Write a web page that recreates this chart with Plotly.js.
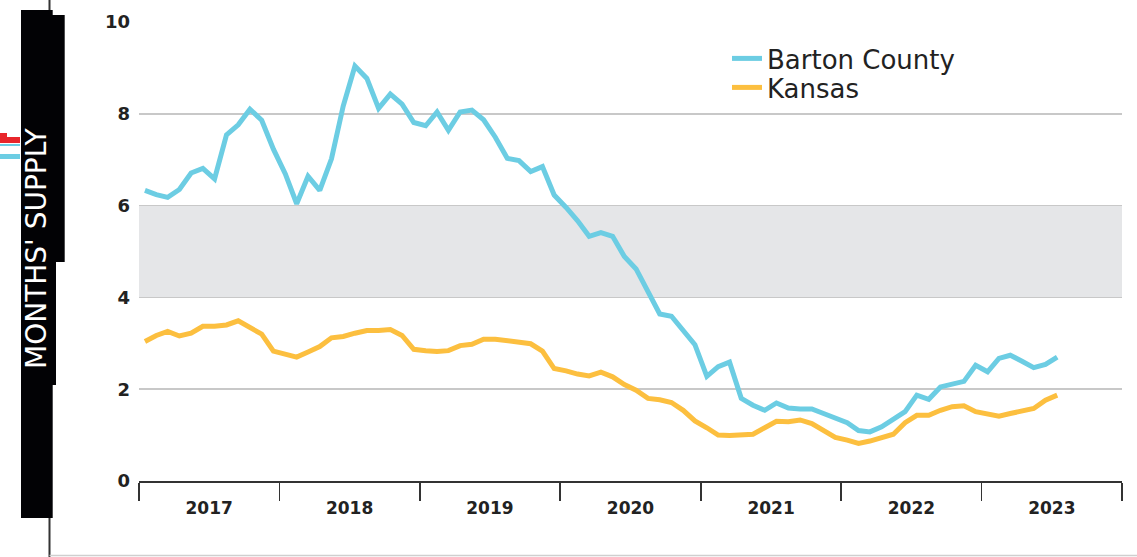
<!DOCTYPE html>
<html>
<head>
<meta charset="utf-8">
<script src="https://cdn.plot.ly/plotly-3.0.1.min.js"></script>
<style>html,body{margin:0;padding:0;background:#fff;}#chart{width:1137px;height:557px;}</style>
</head>
<body>
<div id="chart"></div>
<script>
// ---- Data (monthly, Jan 2017 – Jul 2023) ----
const MONTHS = [];
for (let y = 2017; y <= 2023; y++) {
  for (let m = 1; m <= 12; m++) {
    if (y === 2023 && m > 7) break;
    MONTHS.push(y + '-' + String(m).padStart(2, '0'));
  }
}
const BARTON = [
  6.33, 6.24, 6.18, 6.35, 6.71, 6.81, 6.58, 7.54, 7.76, 8.10, 7.86, 7.23,
  6.69, 6.04, 6.64, 6.33, 7.02, 8.17, 9.04, 8.77, 8.12, 8.43, 8.21, 7.81,
  7.74, 8.04, 7.64, 8.04, 8.08, 7.87, 7.49, 7.03, 6.98, 6.74, 6.85, 6.23,
  5.96, 5.67, 5.33, 5.41, 5.33, 4.89, 4.62, 4.12, 3.64, 3.59, 3.28, 2.97,
  2.28, 2.49, 2.59, 1.80, 1.65, 1.54, 1.70, 1.59, 1.57, 1.57, 1.47, 1.38,
  1.27, 1.10, 1.07, 1.18, 1.34, 1.51, 1.87, 1.78, 2.05, 2.10, 2.17, 2.52,
  2.38, 2.67, 2.74, 2.61, 2.47, 2.54, 2.70
];
const KANSAS = [
  3.04, 3.17, 3.26, 3.16, 3.22, 3.37, 3.37, 3.40, 3.49, 3.36, 3.20, 2.83,
  2.76, 2.70, 2.81, 2.93, 3.12, 3.15, 3.22, 3.28, 3.28, 3.30, 3.17, 2.87,
  2.84, 2.82, 2.84, 2.95, 2.98, 3.09, 3.09, 3.05, 3.02, 2.99, 2.83, 2.45,
  2.40, 2.33, 2.29, 2.37, 2.27, 2.10, 1.98, 1.80, 1.77, 1.71, 1.54, 1.31,
  1.16, 1.00, 0.99, 1.01, 1.02, 1.16, 1.30, 1.29, 1.33, 1.25, 1.11, 0.95,
  0.89, 0.82, 0.87, 0.95, 1.02, 1.27, 1.43, 1.43, 1.54, 1.62, 1.64, 1.51,
  1.47, 1.41, 1.47, 1.52, 1.58, 1.76, 1.87
];
const SERIES_NAMES = ['Barton County', 'Kansas'];
const YEAR_TICKS = ['2017-01-01','2018-01-01','2019-01-01','2020-01-01','2021-01-01','2022-01-01','2023-01-01','2024-01-01'];
const Y_TICKS = [0, 2, 4, 6, 8, 10];
const BALANCED_BAND = [4, 6];
const Y_TITLE = "MONTHS' SUPPLY";

// ---- Style / layout ----
const W = 1137, H = 557;
const M = {l: 139, r: 15, t: 22, b: 76};
const PW = W - M.l - M.r, PH = H - M.t - M.b;
const Y_MAX = 10;
const TICKLEN = 18;
const CYAN = '#6ccde3', GOLD = '#fcbf3f';
const FONT = 'DejaVu Sans';
// pixel -> paper helpers for page decorations
const px = v => (v - M.l) / PW;
const py = v => (H - M.b - v) / PH;

const traces = [
  {x: MONTHS, y: BARTON, name: SERIES_NAMES[0], type: 'scatter', mode: 'lines',
   xperiod: 'M1', xperiodalignment: 'middle', legend: 'legend',
   line: {color: CYAN, width: 5, shape: 'linear'}, hoverinfo: 'skip'},
  {x: MONTHS, y: KANSAS, name: SERIES_NAMES[1], type: 'scatter', mode: 'lines',
   xperiod: 'M1', xperiodalignment: 'middle', legend: 'legend2',
   line: {color: GOLD, width: 5, shape: 'linear'}, hoverinfo: 'skip'},
  // serifs at the ends of the year ticks
  {x: YEAR_TICKS, y: YEAR_TICKS.map(() => -TICKLEN * Y_MAX / PH), type: 'scatter', mode: 'markers',
   marker: {symbol: 'line-ew', size: 10, color: '#333', line: {color: '#333', width: 1.6}},
   cliponaxis: false, showlegend: false, hoverinfo: 'skip'}
];

const rect = (x0, y0, x1, y1, color) => ({type: 'rect', xref: 'paper', yref: 'paper',
  x0: px(x0), x1: px(x1), y0: py(y0), y1: py(y1), fillcolor: color, line: {width: 0}, layer: 'above'});

const legendStyle = (topPx) => ({x: px(727), y: py(topPx), xanchor: 'left', yanchor: 'top',
  font: {family: FONT, size: 26, color: '#222'}, bgcolor: 'rgba(0,0,0,0)',
  itemwidth: 30, tracegroupgap: 0});

const layout = {
  width: W, height: H,
  margin: M,
  paper_bgcolor: '#fff', plot_bgcolor: 'rgba(0,0,0,0)',
  showlegend: true,
  legend: legendStyle(35),
  legend2: legendStyle(64),
  xaxis: {type: 'date', range: ['2017-01-01', '2024-01-01'],
    tick0: YEAR_TICKS[0], dtick: 'M12', ticklabelmode: 'period', tickformat: '%Y',
    ticks: 'outside', ticklen: TICKLEN, tickwidth: 1.6, tickcolor: '#333',
    ticklabelstandoff: -7,
    showline: true, linecolor: '#333', linewidth: 1.6,
    showgrid: false, zeroline: false, fixedrange: true,
    tickfont: {family: FONT, size: 17, color: '#222', weight: 'bold'}},
  yaxis: {range: [0, Y_MAX], tickvals: Y_TICKS, ticks: '', showline: false,
    showgrid: true, gridcolor: '#c8c8c8', gridwidth: 1.5, zeroline: false, fixedrange: true,
    ticklabelstandoff: 8,
    tickfont: {family: FONT, size: 18, color: '#222', weight: 'bold'}},
  shapes: [
    {type: 'rect', xref: 'paper', yref: 'y', x0: 0, x1: 1, y0: BALANCED_BAND[0], y1: BALANCED_BAND[1],
     fillcolor: '#e5e6e8', line: {width: 0}, layer: 'below'},
    // page frame decorations
    {type: 'line', xref: 'paper', yref: 'paper', x0: px(49.5), x1: px(49.5), y0: py(0), y1: py(H),
     line: {color: '#333', width: 2}, layer: 'above'},
    {type: 'line', xref: 'paper', yref: 'paper', x0: px(49.5), x1: px(W), y0: py(555.5), y1: py(555.5),
     line: {color: '#cfcfcf', width: 1.5}, layer: 'above'},
    rect(21, 10, 52.7, 518, '#020205'),
    rect(21, 15, 64.7, 262, '#020205'),
    rect(21, 262, 56, 385, '#020205'),
    rect(0, 133, 7, 138, '#e8262b'),
    rect(0, 137, 20, 143, '#e8262b'),
    rect(0, 144, 20, 146, CYAN),
    rect(0, 154, 20, 159, CYAN)
  ],
  annotations: [
    {xref: 'paper', yref: 'paper', x: px(36.5), y: py(248.5), text: Y_TITLE, textangle: -90,
     showarrow: false, xanchor: 'center', yanchor: 'middle',
     font: {family: FONT, size: 28, color: '#fff'}}
  ]
};

Plotly.newPlot('chart', traces, layout, {displayModeBar: false, staticPlot: true});
</script>
</body>
</html>
